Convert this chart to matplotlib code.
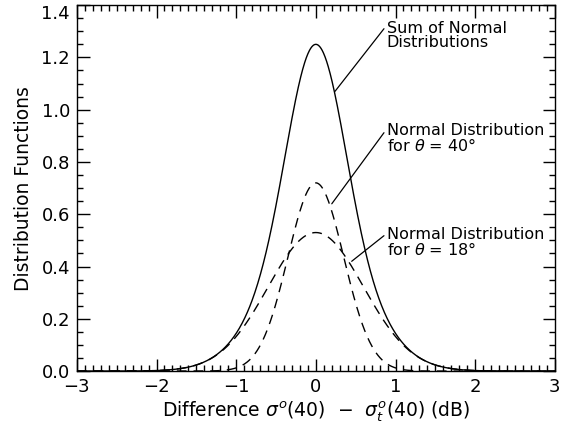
import numpy as np
import matplotlib.pyplot as plt
from matplotlib.ticker import MultipleLocator

plt.rcParams['font.family'] = 'DejaVu Sans'
plt.rcParams['mathtext.fontset'] = 'dejavusans'

# normal distribution parameters (peak height, centre, width) in dB
names = ["40", "18"]
peaks = [0.72, 0.53]
centres = [0.0, 0.0]
widths = [0.35, 0.60]

x = np.linspace(-3, 3, 1201)
curves = [p * np.exp(-0.5 * ((x - c) / w) ** 2) for p, c, w in zip(peaks, centres, widths)]
total = curves[0] + curves[1]

fig = plt.figure(figsize=(5.61, 4.28), dpi=100)
ax = fig.add_axes([0.137, 0.133, 0.852, 0.855])

ax.plot(x, total, color="black", lw=1.0)
for cv in curves:
    ax.plot(x, cv, color="black", lw=1.0, dashes=(7, 5))

ax.set_xlim(-3, 3)
ax.set_ylim(0, 1.4)
ax.xaxis.set_major_locator(MultipleLocator(1))
ax.xaxis.set_minor_locator(MultipleLocator(0.1))
ax.yaxis.set_major_locator(MultipleLocator(0.2))
ax.yaxis.set_minor_locator(MultipleLocator(0.05))
ax.yaxis.set_major_formatter(plt.FuncFormatter(lambda v, p: f"{v:.1f}"))
ax.tick_params(which="both", direction="in", top=True, right=True, width=1.0, labelsize=13)
ax.tick_params(which="major", length=9, pad=5)
ax.tick_params(which="minor", length=4)
for s in ax.spines.values():
    s.set_linewidth(1.0)

ax.set_xlabel(r"Difference $\sigma^{o}$(40)  $-$  $\sigma^{o}_{t}$(40) (dB)", fontsize=13.5, labelpad=2)
ax.set_ylabel("Distribution Functions", fontsize=13.5, labelpad=6)

# keep the top y label inside the figure
fig.canvas.draw()
for tick in ax.yaxis.get_major_ticks():
    if tick.label1.get_text() == "1.4":
        tick.label1.set_va("top")

# labels with leader lines
ann = dict(fontsize=11.5, va="top", ha="left", linespacing=0.92)
ax.annotate("Sum of Normal\nDistributions", xy=(0.24, 1.07), xytext=(0.89, 1.34),
            arrowprops=dict(arrowstyle="-", color="black", lw=0.9, shrinkA=0, shrinkB=0,
                            relpos=(0, 0.85)), **ann)
ax.annotate("Normal Distribution\nfor $\\theta$ = 40°", xy=(0.20, 0.64), xytext=(0.89, 0.95),
            arrowprops=dict(arrowstyle="-", color="black", lw=0.9, shrinkA=0, shrinkB=0,
                            relpos=(0, 0.8)), **ann)
ax.annotate("Normal Distribution\nfor $\\theta$ = 18°", xy=(0.45, 0.42), xytext=(0.89, 0.55),
            arrowprops=dict(arrowstyle="-", color="black", lw=0.9, shrinkA=0, shrinkB=0,
                            relpos=(0, 0.8)), **ann)

fig.savefig("out.png", dpi=100)
